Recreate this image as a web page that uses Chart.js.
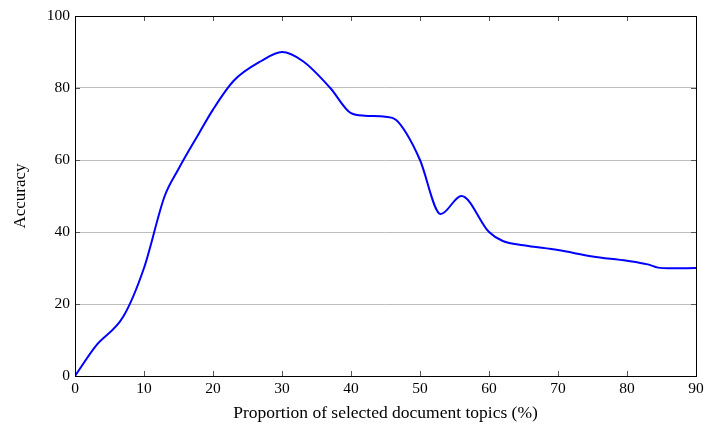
<!DOCTYPE html>
<html>
<head>
<meta charset="utf-8">
<script src="https://cdn.jsdelivr.net/npm/chart.js@4.4.0/dist/chart.umd.min.js"></script>
<style>
  html, body { margin: 0; padding: 0; background: #fff; }
  canvas { display: block; }
</style>
</head>
<body>
<canvas id="accChart" width="717" height="424"></canvas>
<script>
const xValues = [0, 3, 7, 10, 13, 15, 18, 20, 23, 27, 30, 33, 37, 40, 42, 45, 46.5, 48, 50, 53, 56, 60, 62, 65, 70, 75, 80, 83, 84.5, 86, 90];
const accuracy = [0, 8.3, 16.5, 30, 50, 57.5, 67.5, 74, 82, 87.5, 90, 87.5, 80, 73, 72.3, 72, 71.2, 67.5, 60, 45, 50, 40, 37.5, 36.3, 35, 33.2, 32, 31, 30.1, 29.9, 30];
const xTicks = [0, 10, 20, 30, 40, 50, 60, 70, 80, 90];
const yTicks = [0, 20, 40, 60, 80, 100];

const serif = "'Liberation Serif', 'DejaVu Serif', serif";

// box frame and inward tick marks, like pgfplots
const frameTicks = {
    id: "frameTicks",
    afterDraw(chart) {
        const ctx = chart.ctx;
        const a = chart.chartArea;
        const xs = chart.scales.x;
        const ys = chart.scales.y;
        ctx.save();
        ctx.strokeStyle = "#555";
        ctx.lineWidth = 1;
        ctx.beginPath();
        xTicks.forEach(v => {
            const px = Math.round(xs.getPixelForValue(v)) + 0.5;
            ctx.moveTo(px, a.bottom);
            ctx.lineTo(px, a.bottom - 5);
            ctx.moveTo(px, a.top);
            ctx.lineTo(px, a.top + 5);
        });
        yTicks.forEach(v => {
            const py = Math.round(ys.getPixelForValue(v)) + 0.5;
            ctx.moveTo(a.left, py);
            ctx.lineTo(a.left + 5, py);
            ctx.moveTo(a.right, py);
            ctx.lineTo(a.right - 5, py);
        });
        ctx.stroke();
        ctx.strokeStyle = "#000";
        ctx.strokeRect(Math.round(a.left) + 0.5, Math.round(a.top) + 0.5,
            Math.round(a.right - a.left), Math.round(a.bottom - a.top));
        ctx.restore();
    }
};

new Chart(document.getElementById("accChart").getContext("2d"), {
    type: "line",
    data: {
        datasets: [{
            data: xValues.map((x, i) => ({ x: x, y: accuracy[i] })),
            borderColor: "#0000ff",
            borderWidth: 2,
            pointRadius: 0,
            fill: false,
            cubicInterpolationMode: "monotone"
        }]
    },
    options: {
        responsive: false,
        animation: false,
        devicePixelRatio: 1,
        layout: { padding: { top: 16, right: 21, left: 0, bottom: 0 } },
        plugins: { legend: { display: false }, tooltip: { enabled: false } },
        scales: {
            x: {
                type: "linear",
                min: 0,
                max: 90,
                afterBuildTicks: s => { s.ticks = xTicks.map(v => ({ value: v })); },
                afterFit: s => { s.height = 48; },
                grid: { display: false, drawTicks: false },
                border: { display: false },
                ticks: { color: "#000", font: { family: serif, size: 15.5 }, padding: 4, maxRotation: 0 },
                title: {
                    display: true,
                    text: "Proportion of selected document topics (%)",
                    color: "#000",
                    font: { family: serif, size: 17.5 },
                    padding: { top: 4, bottom: 0 }
                }
            },
            y: {
                min: 0,
                max: 100,
                afterBuildTicks: s => { s.ticks = yTicks.map(v => ({ value: v })); },
                afterFit: s => { s.width = 75; },
                grid: {
                    color: ctx => (ctx.tick.value === 0 || ctx.tick.value === 100) ? "rgba(0,0,0,0)" : "#bdbdbd",
                    lineWidth: 1,
                    drawTicks: false
                },
                border: { display: false },
                ticks: { color: "#000", font: { family: serif, size: 15.5 }, padding: 5 },
                title: {
                    display: true,
                    text: "Accuracy",
                    color: "#000",
                    font: { family: serif, size: 17 },
                    padding: { top: 10, bottom: 0 }
                }
            }
        }
    },
    plugins: [frameTicks]
});
</script>
</body>
</html>
